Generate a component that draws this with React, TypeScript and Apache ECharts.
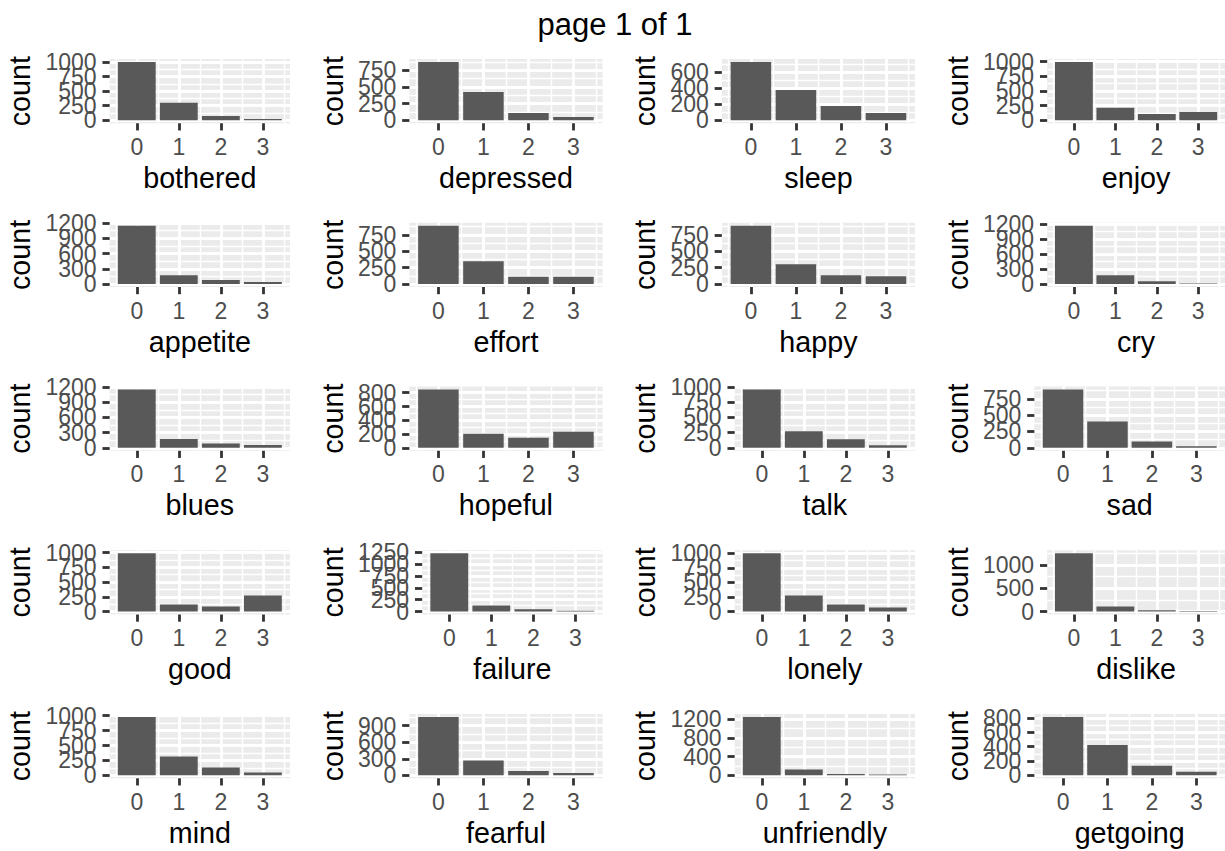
import React, { useEffect, useRef } from "react";
import * as echarts from "echarts";

// ---- data ----
const categories = [0, 1, 2, 3];

const botheredCounts = [1000, 301, 74, 22];
const depressedCounts = [874, 424, 109, 49];
const sleepCounts = [725, 376, 178, 91];
const enjoyCounts = [995, 216, 108, 142];
const appetiteCounts = [1150, 175, 78, 39];
const effortCounts = [890, 347, 111, 111];
const happyCounts = [891, 302, 136, 121];
const cryCounts = [1167, 178, 59, 13];
const bluesCounts = [1155, 175, 84, 58];
const hopefulCounts = [848, 205, 146, 234];
const talkCounts = [962, 272, 140, 42];
const sadCounts = [893, 403, 97, 26];
const goodCounts = [990, 120, 86, 273];
const failureCounts = [1228, 126, 49, 15];
const lonelyCounts = [1000, 275, 122, 70];
const dislikeCounts = [1251, 107, 28, 10];
const mindCounts = [980, 315, 130, 47];
const fearfulCounts = [1060, 269, 78, 42];
const unfriendlyCounts = [1250, 124, 28, 17];
const getgoingCounts = [814, 423, 135, 51];

const ticks250 = [0, 250, 500, 750, 1000];
const ticks750 = [0, 250, 500, 750];
const ticks200to600 = [0, 200, 400, 600];
const ticks200to800 = [0, 200, 400, 600, 800];
const ticks300to1200 = [0, 300, 600, 900, 1200];
const ticks300to900 = [0, 300, 600, 900];
const ticks250to1250 = [0, 250, 500, 750, 1000, 1250];
const ticks500 = [0, 500, 1000];
const ticks400 = [0, 400, 800, 1200];

const xTicks = [0, 1, 2, 3];
const xMinor = [-0.5, 0.5, 1.5, 2.5, 3.5];

const panels: { name: string; values: number[]; ticks: number[] }[] = [
  { name: "bothered", values: botheredCounts, ticks: ticks250 },
  { name: "depressed", values: depressedCounts, ticks: ticks750 },
  { name: "sleep", values: sleepCounts, ticks: ticks200to600 },
  { name: "enjoy", values: enjoyCounts, ticks: ticks250 },
  { name: "appetite", values: appetiteCounts, ticks: ticks300to1200 },
  { name: "effort", values: effortCounts, ticks: ticks750 },
  { name: "happy", values: happyCounts, ticks: ticks750 },
  { name: "cry", values: cryCounts, ticks: ticks300to1200 },
  { name: "blues", values: bluesCounts, ticks: ticks300to1200 },
  { name: "hopeful", values: hopefulCounts, ticks: ticks200to800 },
  { name: "talk", values: talkCounts, ticks: ticks250 },
  { name: "sad", values: sadCounts, ticks: ticks750 },
  { name: "good", values: goodCounts, ticks: ticks250 },
  { name: "failure", values: failureCounts, ticks: ticks250to1250 },
  { name: "lonely", values: lonelyCounts, ticks: ticks250 },
  { name: "dislike", values: dislikeCounts, ticks: ticks500 },
  { name: "mind", values: mindCounts, ticks: ticks250 },
  { name: "fearful", values: fearfulCounts, ticks: ticks300to900 },
  { name: "unfriendly", values: unfriendlyCounts, ticks: ticks400 },
  { name: "getgoing", values: getgoingCounts, ticks: ticks200to800 },
];

// ---- layout / style ----
const FONT = '"Liberation Sans", Arial, Helvetica, sans-serif';
const COL_PITCH = 312.5;
const ROW_PITCH = 163.75;
const ROWS_TOP = 32.25;
const PANEL_TOP = 26.75;
const PANEL_H = 64.25;
const PANEL_RIGHT = 290;
const LABEL_COL = 58.5;
const TICK_FS = 23;
const TITLE_FS = 28.7;
const X_MIN = -0.645;
const X_MAX = 3.645;

function minorBreaks(ticks: number[], lo: number, hi: number) {
  const step = ticks.length > 1 ? ticks[1] - ticks[0] : 1;
  const out: number[] = [];
  for (let i = -1; i < ticks.length; i++) {
    const b = (i < 0 ? ticks[0] - step : ticks[i]) + step / 2;
    if (b >= lo && b <= hi) out.push(b);
  }
  return out;
}

export default function App() {
  const ref = useRef<HTMLDivElement>(null);
  useEffect(() => {
    if (!ref.current) return;
    const chart = echarts.init(ref.current, undefined, { renderer: "svg" });
    const canvas = document.createElement("canvas");
    const ctx = canvas.getContext("2d")!;
    ctx.font = `${TICK_FS}px ${FONT}`;

    const grids: any[] = [];
    const xAxes: any[] = [];
    const yAxes: any[] = [];
    const series: any[] = [];
    const graphics: any[] = [];

    panels.forEach((p, i) => {
      const col = i % 4;
      const row = Math.floor(i / 4);
      const cx = col * COL_PITCH;
      const rowTop = ROWS_TOP + row * ROW_PITCH;
      const lw = Math.max(...p.ticks.map((t) => ctx.measureText(String(t)).width));
      const left = cx + LABEL_COL + lw;
      const width = cx + PANEL_RIGHT - left;
      const top = rowTop + PANEL_TOP;
      grids.push({
        left,
        top,
        width,
        height: PANEL_H,
        show: true,
        backgroundColor: "#EBEBEB",
        borderWidth: 0,
      });
      const M = Math.max(...p.values);
      const lo = -0.05 * M;
      const hi = 1.05 * M;
      // major x
      const xMajorIndex = xAxes.length;
      xAxes.push({
        gridIndex: i,
        type: "value",
        position: "bottom",
        min: X_MIN,
        max: X_MAX,
        axisLine: { show: false, onZero: false },
        axisTick: {
          show: true,
          customValues: xTicks,
          length: 7.2,
          lineStyle: { color: "#333333", width: 2.8 },
        },
        axisLabel: {
          show: true,
          customValues: xTicks,
          showMinLabel: true,
          showMaxLabel: true,
          fontSize: TICK_FS,
          fontFamily: FONT,
          color: "#4D4D4D",
          margin: 12,
          formatter: (v: number) => String(v),
        },
        splitLine: { show: true, lineStyle: { color: "#FFFFFF", width: 2.8 } },
        name: p.name,
        nameLocation: "middle",
        nameGap: 40,
        nameMoveOverlap: false,
        nameTextStyle: { fontSize: TITLE_FS, fontFamily: FONT, color: "#000000" },
      });
      // minor x
      xAxes.push({
        gridIndex: i,
        type: "value",
        position: "bottom",
        min: X_MIN,
        max: X_MAX,
        axisLine: { show: false, onZero: false },
        axisTick: { show: false, customValues: xMinor },
        axisLabel: { show: false, customValues: xMinor },
        splitLine: { show: true, lineStyle: { color: "#FFFFFF", width: 1.4 } },
      });
      const minor = minorBreaks(p.ticks, lo, hi);
      const yMajorIndex = yAxes.length;
      yAxes.push({
        gridIndex: i,
        type: "value",
        position: "left",
        min: lo,
        max: hi,
        axisLine: { show: false, onZero: false },
        axisTick: {
          show: true,
          customValues: p.ticks,
          length: 7.2,
          lineStyle: { color: "#333333", width: 2.8 },
        },
        axisLabel: { show: false, customValues: p.ticks },
        splitLine: { show: true, lineStyle: { color: "#FFFFFF", width: 2.8 } },
      });
      yAxes.push({
        gridIndex: i,
        type: "value",
        position: "left",
        min: lo,
        max: hi,
        axisLine: { show: false, onZero: false },
        axisTick: { show: false, customValues: minor },
        axisLabel: { show: false, customValues: minor },
        splitLine: { show: true, lineStyle: { color: "#FFFFFF", width: 1.4 } },
      });
      // one label axis per tick label, so that overlapping labels all stay visible (as in the reference)
      p.ticks.forEach((t) => {
        yAxes.push({
          gridIndex: i,
          type: "value",
          position: "left",
          min: lo,
          max: hi,
          axisLine: { show: false, onZero: false },
          axisTick: { show: false, customValues: [t] },
          axisLabel: {
            show: true,
            customValues: [t],
            showMinLabel: true,
            showMaxLabel: true,
            fontSize: TICK_FS,
            fontFamily: FONT,
            color: "#4D4D4D",
            margin: 13,
            formatter: (v: number) => String(v),
          },
          splitLine: { show: false },
        });
      });
      series.push({
        type: "bar",
        xAxisIndex: xMajorIndex,
        yAxisIndex: yMajorIndex,
        data: p.values.map((v, k) => [categories[k], v]),
        barWidth: (0.9 * width) / (X_MAX - X_MIN),
        itemStyle: { color: "#595959" },
        silent: true,
      });
      graphics.push({
        type: "text",
        x: cx + 20,
        y: top + PANEL_H / 2,
        rotation: Math.PI / 2,
        style: {
          text: "count",
          fontSize: TITLE_FS,
          fontFamily: FONT,
          fill: "#000000",
          align: "center",
          verticalAlign: "middle",
        },
      });
    });

    graphics.push({
      type: "text",
      x: 615,
      y: 24.5,
      style: {
        text: "page 1 of 1",
        fontSize: 31,
        fontFamily: FONT,
        fill: "#000000",
        align: "center",
        verticalAlign: "middle",
      },
    });

    chart.setOption({
      animation: false,
      backgroundColor: "#FFFFFF",
      textStyle: { fontFamily: FONT },
      grid: grids,
      xAxis: xAxes,
      yAxis: yAxes,
      series,
      graphic: graphics,
    });
    return () => chart.dispose();
  }, []);
  return (
    <div
      ref={ref}
      style={{ position: "absolute", left: 0, top: 0, width: 1225, height: 851 }}
    />
  );
}
